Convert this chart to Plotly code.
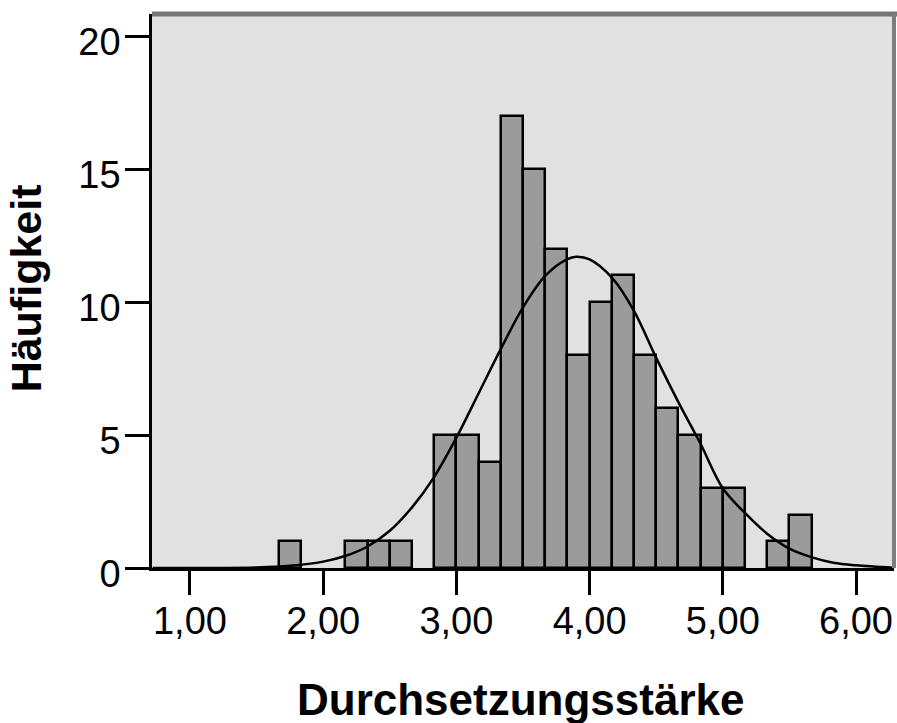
import plotly.graph_objects as go

# Histogram bins (lower edge of each bin, bin width = 1/6) and counts
bin_width = 1 / 6
bin_lower = [10/6, 13/6, 14/6, 15/6, 17/6, 18/6, 19/6, 20/6, 21/6, 22/6,
             23/6, 24/6, 25/6, 26/6, 27/6, 28/6, 29/6, 30/6, 32/6, 33/6]
counts = [1, 1, 1, 1, 5, 5, 4, 17, 15, 12,
          8, 10, 11, 8, 6, 5, 3, 3, 1, 2]

# Normal curve
curve_x = [0.72, 1.5, 1.75, 2.0, 2.17, 2.33, 2.5, 2.67, 2.83, 3.0, 3.17, 3.33,
           3.5, 3.67, 3.83, 3.9, 4.0, 4.17, 4.33, 4.5, 4.67, 4.83, 5.0, 5.17,
           5.33, 5.5, 5.67, 5.83, 6.0, 6.28]
curve_y = [0.0, 0.02, 0.08, 0.24, 0.46, 0.8, 1.4, 2.3, 3.4, 4.9, 6.6, 8.2,
           9.8, 11.0, 11.6, 11.7, 11.6, 10.9, 9.7, 7.9, 6.2, 4.7, 3.0, 2.05,
           1.3, 0.73, 0.4, 0.2, 0.1, 0.01]

x_tickvals = [1, 2, 3, 4, 5, 6]
x_ticktext = ["1,00", "2,00", "3,00", "4,00", "5,00", "6,00"]
y_tickvals = [0, 5, 10, 15, 20]
y_ticktext = ["0", "5", "10", "15", "20"]

x_title = "Durchsetzungsstärke"
y_title = "Häufigkeit"

centers = [b + bin_width / 2 for b in bin_lower]

fig = go.Figure()
fig.add_trace(go.Bar(
    x=centers, y=counts, width=[bin_width] * len(counts),
    marker=dict(color="#9b9b9b", line=dict(color="#000000", width=2.5)),
    showlegend=False, hoverinfo="skip",
))
fig.add_trace(go.Scatter(
    x=curve_x, y=curve_y, mode="lines",
    line=dict(color="#000000", width=2.5, shape="spline", smoothing=1.0),
    showlegend=False, hoverinfo="skip",
))

font_family = "Liberation Sans, Arial, sans-serif"

fig.update_layout(
    width=897, height=723,
    margin=dict(l=152, r=3, t=14, b=155),
    paper_bgcolor="#ffffff",
    plot_bgcolor="#e1e1e1",
    bargap=0,
    font=dict(family=font_family, color="#000000"),
    xaxis=dict(
        range=[0.715, 6.285],
        tickvals=x_tickvals, ticktext=x_ticktext,
        ticks="outside", ticklen=24, tickwidth=2.5, tickcolor="#000000",
        tickfont=dict(size=38, family=font_family, color="#000000"),
        ticklabelstandoff=-7,
        showline=True, linecolor="#000000", linewidth=3,
        showgrid=False, zeroline=False,
    ),
    yaxis=dict(
        range=[0, 20.83],
        tickvals=y_tickvals, ticktext=y_ticktext,
        ticks="outside", ticklen=24, tickwidth=2.5, tickcolor="#000000",
        tickfont=dict(size=38, family=font_family, color="#000000"),
        ticklabelshift=6, ticklabelstandoff=-3,
        showline=True, linecolor="#000000", linewidth=2.5,
        showgrid=False, zeroline=False,
    ),
    shapes=[
        dict(type="line", xref="paper", yref="paper", x0=0, x1=1.01, y0=1, y1=1,
             line=dict(color="#767676", width=5)),
        dict(type="line", xref="paper", yref="paper", x0=1, x1=1, y0=0, y1=1,
             line=dict(color="#7e7e7e", width=4)),
    ],
    annotations=[
        dict(text=x_title, xref="paper", yref="paper", x=0.496, y=-0.237,
             xanchor="center", yanchor="middle", showarrow=False,
             font=dict(size=44, family=font_family, color="#000000", weight="bold")),
        dict(text=y_title, xref="paper", yref="paper", x=-0.17, y=0.5045,
             xanchor="center", yanchor="middle", showarrow=False, textangle=-90,
             font=dict(size=43, family=font_family, color="#000000", weight="bold")),
    ],
)

fig.write_html("out.html", config={"displayModeBar": False},
               post_script="document.body.style.margin='0';")
